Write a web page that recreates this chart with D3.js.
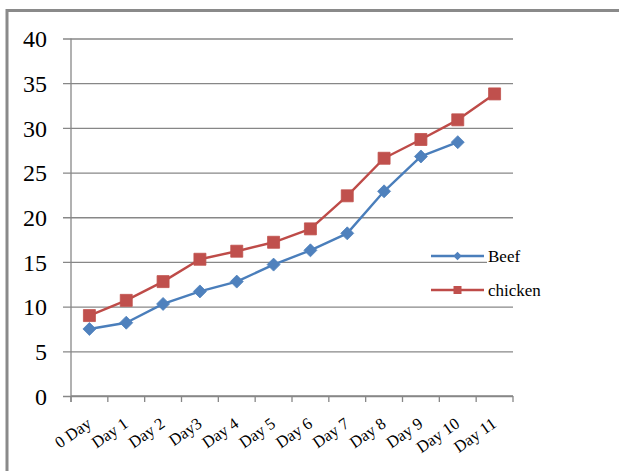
<!DOCTYPE html>
<html>
<head>
<meta charset="utf-8">
<script src="https://cdn.jsdelivr.net/npm/d3@7"></script>
<style>
  html, body { margin: 0; padding: 0; background: #fff; }
  svg { display: block; }
</style>
</head>
<body>
<svg id="chart" width="619" height="471"></svg>
<script>
const categories = ["0 Day", "Day 1", "Day 2", "Day3", "Day 4", "Day 5", "Day 6", "Day 7", "Day 8", "Day 9", "Day 10", "Day 11"];
const beef = [7.5, 8.2, 10.3, 11.7, 12.8, 14.7, 16.3, 18.2, 22.9, 26.8, 28.4];
const chicken = [9.0, 10.7, 12.8, 15.3, 16.2, 17.2, 18.7, 22.4, 26.6, 28.7, 30.9, 33.8];
const yTicks = [0, 5, 10, 15, 20, 25, 30, 35, 40];
const seriesNames = ["Beef", "chicken"];

(function () {
const svg = d3.select("#chart");
const serif = '"Liberation Serif", "Times New Roman", serif';
const gridColor = "#878787";
const blueLine = "#4a7ebb", blueMark = "#4f81bd";
const redLine = "#be4b48", redMark = "#c0504d";

// outer frame (top and left edges)
svg.append("path")
  .attr("d", "M7,471 V10.5 H619")
  .attr("fill", "none")
  .attr("stroke", "#8a8a8a")
  .attr("stroke-width", 3);

const plotLeft = 71, plotRight = 513, plotTop = 38.5, plotBottom = 396;
const x = d3.scaleBand().domain(categories).range([plotLeft, plotRight]);
const y = d3.scaleLinear().domain([0, 40]).range([plotBottom, plotTop]);
const cx = i => x(categories[i]) + x.bandwidth() / 2;

// horizontal gridlines with outward ticks
const yAxis = d3.axisLeft(y).tickValues(yTicks).tickSize(-(plotRight - plotLeft)).tickSizeOuter(0).tickFormat(d3.format("d"));
const gy = svg.append("g").attr("transform", `translate(${plotLeft},0)`).call(yAxis);
gy.attr("font-family", null).attr("font-size", null);
gy.select(".domain").remove();
gy.selectAll(".tick line")
  .attr("x1", -8)
  .attr("x2", plotRight - plotLeft)
  .attr("stroke", gridColor)
  .attr("stroke-width", 1.3);
gy.selectAll(".tick text")
  .attr("x", -24)
  .attr("dy", "0.34em")
  .attr("fill", "#000")
  .style("font-family", serif)
  .style("font-size", "24px");

// vertical axis line
svg.append("line")
  .attr("x1", plotLeft).attr("x2", plotLeft)
  .attr("y1", plotTop).attr("y2", plotBottom + 6)
  .attr("stroke", gridColor).attr("stroke-width", 1.3);

// category axis with ticks at band boundaries
const gx = svg.append("g").attr("transform", `translate(0,${plotBottom})`);
gx.append("line")
  .attr("x1", plotLeft).attr("x2", plotRight)
  .attr("stroke", gridColor).attr("stroke-width", 1.3);
const boundaries = categories.map(c => x(c)).concat([plotRight]);
gx.selectAll("line.tk").data(boundaries).enter().append("line")
  .attr("class", "tk")
  .attr("x1", d => d).attr("x2", d => d)
  .attr("y1", 0).attr("y2", 6)
  .attr("stroke", gridColor).attr("stroke-width", 1.3);
gx.selectAll("text").data(categories).enter().append("text")
  .attr("transform", (d, i) => `translate(${cx(i) + 3},${30}) rotate(-35)`)
  .attr("text-anchor", "end")
  .style("font-family", serif)
  .style("font-size", "16.5px")
  .attr("fill", "#000")
  .text(d => d);

// series
const diamond = r => `M0,${-r}L${r},0L0,${r}L${-r},0Z`;
const square = s => `M${-s / 2},${-s / 2}h${s}v${s}h${-s}Z`;
const line = d3.line().x(d => d.x).y(d => d.y);

function drawSeries(values, lineColor, markColor, shape) {
  const pts = values.map((v, i) => ({ x: cx(i), y: y(v) }));
  svg.append("path")
    .attr("d", line(pts))
    .attr("fill", "none")
    .attr("stroke", lineColor)
    .attr("stroke-width", 2.4)
    .attr("stroke-linejoin", "round");
  svg.append("g").selectAll("path").data(pts).enter().append("path")
    .attr("transform", d => `translate(${d.x},${d.y})`)
    .attr("d", shape)
    .attr("fill", markColor)
    .attr("stroke", markColor)
    .attr("stroke-width", 0.8);
}
drawSeries(beef, blueLine, blueMark, diamond(6.5));
drawSeries(chicken, redLine, redMark, square(12));

// legend
svg.append("rect")
  .attr("x", 487).attr("y", 243).attr("width", 40).attr("height", 60)
  .attr("fill", "#fff");
const legend = [
  { name: seriesNames[0], ly: 256, lc: blueLine, mc: blueMark, shape: diamond(4.2) },
  { name: seriesNames[1], ly: 290, lc: redLine, mc: redMark, shape: square(8) }
];
const lg = svg.append("g").selectAll("g").data(legend).enter().append("g");
lg.append("line")
  .attr("x1", 431).attr("x2", 484)
  .attr("y1", d => d.ly).attr("y2", d => d.ly)
  .attr("stroke", d => d.lc).attr("stroke-width", 2.4);
lg.append("path")
  .attr("transform", d => `translate(457.5,${d.ly})`)
  .attr("d", d => d.shape)
  .attr("fill", d => d.mc);
lg.append("text")
  .attr("x", 488)
  .attr("y", d => d.ly + 6)
  .style("font-family", serif)
  .style("font-size", "17px")
  .attr("fill", "#000")
  .text(d => d.name);
})();
</script>
</body>
</html>
